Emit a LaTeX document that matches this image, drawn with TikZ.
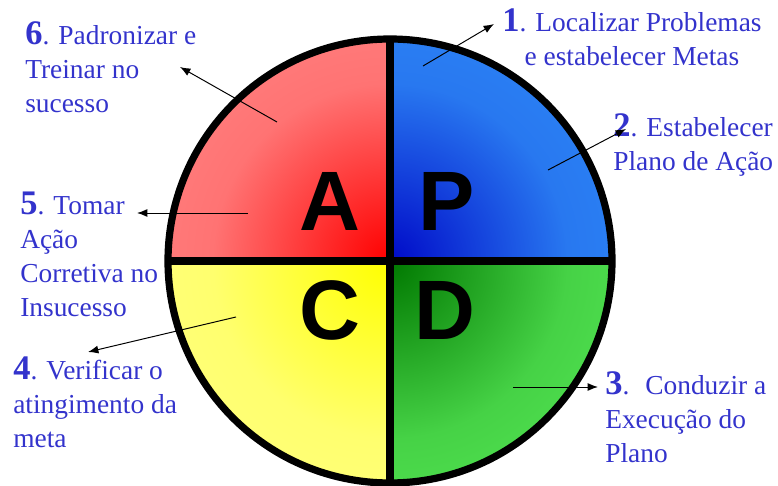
\documentclass[tikz,border=0pt]{standalone}
\usepackage{fontspec}
\setmainfont{Liberation Serif}
\setsansfont{Liberation Sans}
\usepackage{xcolor}
\usepackage{tikz}
\usetikzlibrary{arrows.meta}
\definecolor{txtblue}{RGB}{51,51,204}
\definecolor{redin}{RGB}{255,0,0}
\definecolor{redmid}{RGB}{255,115,115}
\definecolor{redout}{RGB}{255,150,150}
\definecolor{bluein}{RGB}{0,10,200}
\definecolor{bluemid}{RGB}{40,120,240}
\definecolor{blueout}{RGB}{51,153,255}
\definecolor{yellowin}{RGB}{255,255,0}
\definecolor{yellowmid}{RGB}{255,255,110}
\definecolor{yellowout}{RGB}{255,255,150}
\definecolor{greenin}{RGB}{0,120,0}
\definecolor{greenmid}{RGB}{70,210,70}
\definecolor{greenout}{RGB}{100,255,100}
\pgfdeclareradialshading{redquad}{\pgfpoint{0bp}{0bp}}{color(0bp)=(redin); color(20bp)=(redmid); color(50bp)=(redout)}
\pgfdeclareradialshading{bluequad}{\pgfpoint{0bp}{0bp}}{color(0bp)=(bluein); color(20bp)=(bluemid); color(50bp)=(blueout)}
\pgfdeclareradialshading{yellowquad}{\pgfpoint{0bp}{0bp}}{color(0bp)=(yellowin); color(20bp)=(yellowmid); color(50bp)=(yellowout)}
\pgfdeclareradialshading{greenquad}{\pgfpoint{0bp}{0bp}}{color(0bp)=(greenin); color(20bp)=(greenmid); color(50bp)=(greenout)}
\newcommand{\stepnum}[1]{{\fontsize{24.5}{24.2}\selectfont\bfseries #1}}
\tikzset{
  quad/.style={path picture={\shade[shading=#1] (c) circle (5.55);}},
  rim/.style={draw=black, line width=0.18cm},
  letter/.style={font=\fontsize{60}{60}\selectfont\sffamily\bfseries,
    anchor=base, inner sep=0pt},
  steplabel/.style={anchor=base west, align=left, inner sep=0pt,
    text=txtblue, font=\fontsize{19.5}{24.2}\selectfont},
  pointer/.style={-{Latex[length=2.6mm, width=2mm]}, line width=0.7pt, color=black}
}
\begin{document}
\begin{tikzpicture}
  \useasboundingbox (0,0) rectangle (19.45,12.15);
  % Centre of the cycle and ends of the dividers
  \coordinate (c) at (9.75,5.625);
  \coordinate (ctop) at (9.75,11.175);
  \coordinate (cbot) at (9.75,0.075);
  \coordinate (cleft) at (4.2,5.625);
  \coordinate (cright) at (15.3,5.625);

  % Quadrants, shaded from the centre outwards
  \path[quad=redquad] (c) -- (ctop) arc[start angle=90, end angle=180, radius=5.55] -- cycle;
  \path[quad=bluequad] (c) -- (cright) arc[start angle=0, end angle=90, radius=5.55] -- cycle;
  \path[quad=yellowquad] (c) -- (cleft) arc[start angle=180, end angle=270, radius=5.55] -- cycle;
  \path[quad=greenquad] (c) -- (cbot) arc[start angle=270, end angle=360, radius=5.55] -- cycle;

  % Dividers and rim
  \draw[rim] (ctop) -- (cbot);
  \draw[rim] (cleft) -- (cright);
  \draw[rim] (c) circle (5.55);

  % Letters of the cycle
  \node[letter] (lA) at (8.25,6.375) {A};
  \node[letter] (lP) at (11.175,6.375) {P};
  \node[letter] (lC) at (8.25,3.65) {C};
  \node[letter] (lD) at (11.125,3.65) {D};

  % Step labels round the circle (placed by the baseline of their last line)
  \node[steplabel, align=center] (s1) at (12.55,10.51) {\stepnum{1}. Localizar Problemas\\e estabelecer Metas};
  \node[steplabel] (s2) at (15.325,7.875) {\stepnum{2}. Estabelecer\\Plano de Ação};
  \node[steplabel] (s3) at (15.125,0.583) {\stepnum{3}.~ Conduzir a\\Execução do\\Plano};
  \node[steplabel] (s4) at (0.325,0.95) {\stepnum{4}. Verificar o\\atingimento da\\meta};
  \node[steplabel] (s5) at (0.5,4.225) {\stepnum{5}. Tomar\\Ação\\Corretiva no\\Insucesso};
  \node[steplabel] (s6) at (0.625,9.325) {\stepnum{6}. Padronizar e\\Treinar no\\sucesso};

  % Pointers from the quadrants to the labels
  \coordinate (p1) at (10.575,10.5);  \coordinate (q1) at (12.35,11.55);
  \coordinate (p2) at (13.7,7.9);     \coordinate (q2) at (15.65,8.925);
  \coordinate (p3) at (12.825,2.475); \coordinate (q3) at (14.95,2.475);
  \coordinate (p4) at (5.9,4.225);    \coordinate (q4) at (2.2,3.35);
  \coordinate (p5) at (6.2,6.825);    \coordinate (q5) at (3.425,6.825);
  \coordinate (p6) at (6.925,9.1);    \coordinate (q6) at (4.5,10.475);
  \draw[pointer] (p1) -- (q1);
  \draw[pointer] (p2) -- (q2);
  \draw[pointer] (p3) -- (q3);
  \draw[pointer] (p4) -- (q4);
  \draw[pointer] (p5) -- (q5);
  \draw[pointer] (p6) -- (q6);
\end{tikzpicture}
\end{document}
